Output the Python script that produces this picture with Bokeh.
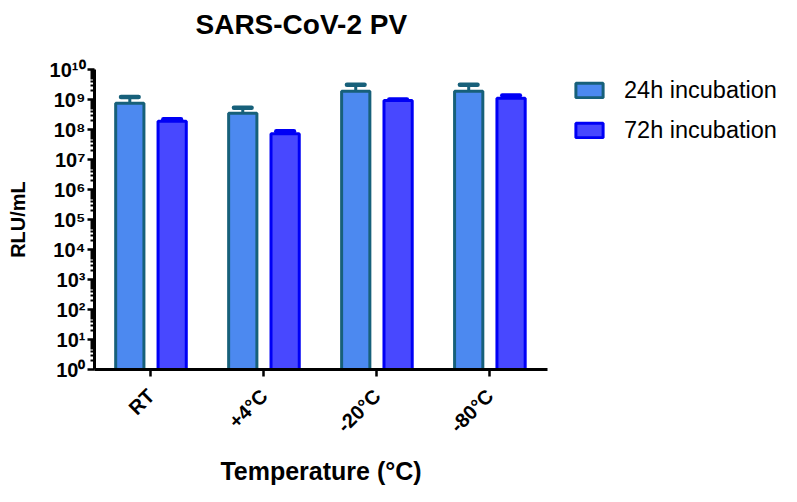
from bokeh.plotting import figure
from bokeh.models import Range1d, FixedTicker, CustomJSTickFormatter, Legend, LegendItem, Title
from bokeh.embed import file_html
from bokeh.resources import INLINE

categories = ["RT", "+4°C", "-20°C", "-80°C"]
series_names = ["24h incubation", "72h incubation"]
h24_mean = [7.5e8, 3.5e8, 1.9e9, 1.9e9]
h24_err = [4.5e8, 1.8e8, 1.2e9, 1.2e9]
h72_mean = [1.9e8, 7.2e7, 9.3e8, 1.1e9]
h72_err = [3.0e7, 1.6e7, 7.0e7, 2.5e8]

FONT = "Liberation Sans"
TXT = "#000000"
fill_colors = ["#4C89F0", "#4848FF"]
line_colors = ["#17607A", "#0000F5"]
offsets = [-0.1875, 0.1875]
bar_w = 0.25
cap_half = 0.078

p = figure(frame_width=453, frame_height=300, x_range=Range1d(-0.5, 3.51), y_range=Range1d(1, 1e10),
           y_axis_type="log", output_backend="svg", toolbar_location=None, title_location=None,
           min_border_left=94, min_border_right=234, min_border_top=69, min_border_bottom=117,
           background_fill_color="white", border_fill_color="white")
p.outline_line_color = None
p.xgrid.visible = False
p.ygrid.visible = False

renderers = []
for means, errs, off, fc, lc in [(h24_mean, h24_err, offsets[0], fill_colors[0], line_colors[0]),
                                 (h72_mean, h72_err, offsets[1], fill_colors[1], line_colors[1])]:
    xs = [i + off for i in range(len(categories))]
    ups = [m + e for m, e in zip(means, errs)]
    p.segment(x0=xs, y0=means, x1=xs, y1=ups, line_color=lc, line_width=3)
    p.segment(x0=[x - cap_half for x in xs], y0=ups, x1=[x + cap_half for x in xs], y1=ups,
              line_color=lc, line_width=4.5, line_cap="round")
    r = p.vbar(x=xs, top=means, bottom=1, width=bar_w, fill_color=fc, line_color=lc, line_width=3)
    renderers.append(r)

# axes
yax = p.yaxis[0]
yax.ticker = FixedTicker(ticks=[10.0 ** k for k in range(0, 11)],
                         minor_ticks=[m * 10.0 ** k for k in range(0, 10) for m in range(2, 10)])
yax.formatter = CustomJSTickFormatter(code="""
const sup = {'0':'\u2070','1':'\u00b9','2':'\u00b2','3':'\u00b3','4':'\u2074','5':'\u2075','6':'\u2076','7':'\u2077','8':'\u2078','9':'\u2079'};
const e = Math.round(Math.log10(tick)).toString();
return '10' + e.split('').map(c => sup[c]).join('');
""")
yax.axis_line_width = 3
yax.axis_line_color = "black"
yax.major_tick_line_width = 2.5
yax.minor_tick_line_width = 2
yax.major_tick_out = 7
yax.major_tick_in = 0
yax.minor_tick_out = 4
yax.minor_tick_in = 0
yax.major_label_standoff = 2
yax.major_label_text_font = FONT
yax.major_label_text_font_style = "bold"
yax.major_label_text_font_size = "20px"
yax.major_label_text_color = TXT
yax.axis_label = "RLU/mL"
yax.axis_label_text_font = FONT
yax.axis_label_text_font_style = "bold"
yax.axis_label_text_font_size = "20px"
yax.axis_label_text_color = TXT
yax.axis_label_standoff = 18

xax = p.xaxis[0]
xax.ticker = FixedTicker(ticks=list(range(len(categories))), minor_ticks=[])
xax.major_label_overrides = {i: c for i, c in enumerate(categories)}
xax.major_label_orientation = 0.785398
xax.axis_line_width = 3
xax.axis_line_color = "black"
xax.major_tick_line_width = 2.5
xax.major_tick_out = 7
xax.major_tick_in = 0
xax.minor_tick_out = 0
xax.major_label_standoff = 16
xax.major_label_text_font = FONT
xax.major_label_text_font_style = "bold"
xax.major_label_text_font_size = "20px"
xax.major_label_text_color = TXT
xax.axis_label = "Temperature (°C)"
xax.axis_label_text_font = FONT
xax.axis_label_text_font_style = "bold"
xax.axis_label_text_font_size = "25px"
xax.axis_label_text_color = TXT
xax.axis_label_standoff = 10

# spacer between frame and title, then the title itself (stacked outward)
p.add_layout(Title(text=" ", text_font_size="10px", standoff=17), "above")
p.add_layout(Title(text="SARS-CoV-2 PV", align="left", offset=101, text_font=FONT,
                   text_font_style="bold", text_font_size="28px", text_color=TXT, standoff=0), "above")

legend = Legend(items=[LegendItem(label=series_names[0], renderers=[renderers[0]]),
                       LegendItem(label=series_names[1], renderers=[renderers[1]])],
                location=(25, 224), label_text_font=FONT, label_text_font_size="23.5px",
                label_text_color=TXT,
                glyph_width=34, glyph_height=18, label_height=30, label_standoff=18, spacing=10,
                border_line_color=None, background_fill_alpha=0, padding=0, margin=0)
p.add_layout(legend, "right")

open("out.html", "w").write(file_html(p, INLINE))
